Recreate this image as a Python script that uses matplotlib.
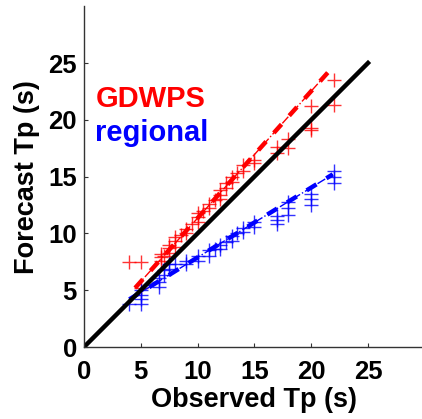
import matplotlib
matplotlib.use("Agg")
import matplotlib.pyplot as plt
import numpy as np

plt.rcParams['font.family'] = ['Liberation Sans', 'DejaVu Sans']

# Observed Tp (s) and forecast Tp (s) for each model
gd_obs = [4, 5, 5, 6.8, 6.8, 6.8, 7, 7.5, 7.5, 7.5, 8, 8, 8, 8.5, 9, 9, 9.5, 10, 10, 10, 10.5,
          11, 11, 11.5, 12, 12, 12, 12.5, 12.5, 13, 13, 13.5, 14, 14, 15, 15, 17, 17, 18, 18,
          20, 20, 20, 22, 22]
gd_fc = [7.5, 7.5, 5.2, 7.6, 7.9, 8.2, 8.0, 8.3, 8.7, 9.0, 8.8, 9.3, 9.7, 9.9, 10.0, 10.4, 10.8,
         11.0, 11.4, 11.8, 12.0, 12.2, 12.6, 12.9, 13.0, 13.4, 13.8, 14.0, 14.4, 14.5, 15.0, 15.3,
         15.5, 16.0, 16.2, 16.5, 17.1, 17.6, 18.3, 17.5, 19.1, 19.3, 21.2, 23.5, 21.3]

rg_obs = [4, 5, 5, 5, 5, 6.6, 6.6, 6.6, 7, 7, 7.5, 7.5, 8, 9, 9, 10, 10, 11, 11, 11.5, 12, 12,
          12.5, 13, 13, 13.5, 14, 14, 15, 15, 17, 17, 17, 18, 18, 18, 20, 20, 20, 22, 22, 22]
rg_fc = [3.8, 3.8, 4.2, 4.6, 5.0, 5.3, 5.7, 6.1, 6.3, 6.8, 6.9, 7.3, 7.3, 7.3, 7.6, 7.6, 8.0,
         8.0, 8.5, 8.6, 8.6, 9.0, 9.2, 9.3, 9.8, 10.0, 10.1, 10.5, 10.6, 11.0, 10.8, 11.2, 11.5,
         11.6, 12.2, 12.8, 12.5, 13.0, 13.5, 14.4, 15.0, 15.5]

# Fitted lines (endpoints)
gd_fit_x = [4.5, 21.5]
gd_fit_y = [5.2, 24.2]
rg_fit_x = [4.0, 21.9]
rg_fit_y = [4.2, 15.2]
one_x = [0, 25]
one_y = [0, 25]

W, H = 422, 419
fig = plt.figure(figsize=(W / 100, H / 100), dpi=100)
x0, y0 = 84, 347
ppu = 11.36
ax = fig.add_axes([x0 / W, (H - y0) / H, 30 * ppu / W, 30 * ppu / H])
ax.set_xlim(0, 30)
ax.set_ylim(0, 30)

ax.plot(gd_obs, gd_fc, linestyle='none', marker='+', color='red', ms=9.5, mew=1.0, alpha=0.8)
ax.plot(rg_obs, rg_fc, linestyle='none', marker='+', color='blue', ms=9.5, mew=1.0, alpha=0.8)

ax.plot(gd_fit_x, gd_fit_y, color='red', lw=3.2, ls=(0, (2.6, 2.6)))
ax.plot(gd_fit_x, gd_fit_y, color='red', lw=1.0, ls='-.')
ax.plot(rg_fit_x, rg_fit_y, color='blue', lw=3.2, ls=(0, (2.6, 2.6)))
ax.plot(rg_fit_x, rg_fit_y, color='blue', lw=1.0, ls='-.')
ax.plot(one_x, one_y, color='black', lw=3.2)

ax.text(1.0, 21.8, 'GDWPS', color='red', fontsize=21, fontweight='bold', va='center')
ax.text(1.0, 18.8, 'regional', color='blue', fontsize=21, fontweight='bold', va='center')

ax.spines['top'].set_visible(False)
ax.spines['right'].set_visible(False)
for s in ['left', 'bottom']:
    ax.spines[s].set_color('#333333')
    ax.spines[s].set_linewidth(1.0)
ax.set_xticks([0, 5, 10, 15, 20, 25])
ax.set_yticks([0, 5, 10, 15, 20, 25])
ax.tick_params(direction='in', length=3, width=0.8, labelsize=18.5, colors='#333333',
               labelcolor='black')
ax.tick_params(axis='x', pad=9)
ax.tick_params(axis='y', pad=5)
for lab in ax.get_xticklabels() + ax.get_yticklabels():
    lab.set_fontweight('bold')
ax.set_xlabel('Observed Tp (s)', fontsize=19.5, fontweight='bold', labelpad=2.5)
ax.set_ylabel('Forecast Tp (s)', fontsize=19.5, fontweight='bold', labelpad=6)

fig.savefig('out.png', dpi=100)
